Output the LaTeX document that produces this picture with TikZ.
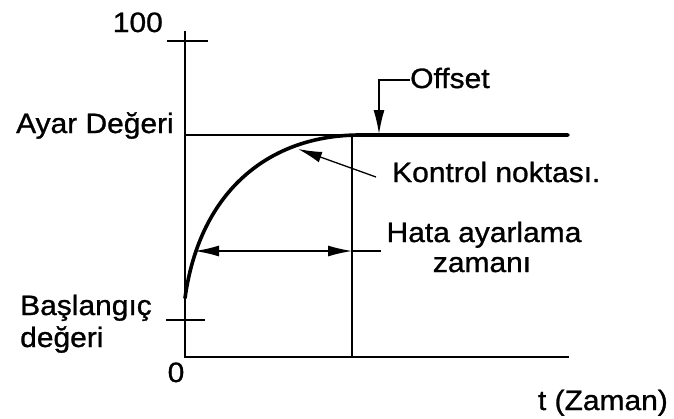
\documentclass[tikz,border=0pt]{standalone}
\usepackage{fontspec}
\newfontfamily\labfont{Liberation Sans}[FakeStretch=1.07,FakeBold=1]
\usetikzlibrary{arrows.meta,positioning}

\begin{document}
\begin{tikzpicture}[
    x=1pt,y=-1pt,
    lbl/.style={font=\labfont\fontsize{28}{31}\selectfont,inner sep=0pt},
    axis/.style={line width=1.3pt},
    resp/.style={line width=3.6pt,line cap=round},
    arr/.style={line width=1.3pt,-{Latex[length=24pt,width=11pt]}},
    dimarr/.style={line width=1.3pt,{Latex[length=24pt,width=11pt]}-{Latex[length=24pt,width=11pt]}}
  ]
  \useasboundingbox (0,0) rectangle (674,418);

  % axes and ticks
  \coordinate (o) at (185,357);
  \coordinate (ytop) at (185,31);
  \coordinate (xend) at (569,357);
  \coordinate (t100a) at (167,41);
  \coordinate (t100b) at (208,41);
  \coordinate (t0a) at (166,320);
  \coordinate (t0b) at (205,320);
  \draw[axis] (ytop) -- (o) -- (xend);
  \draw[axis] (t100a) -- (t100b);
  \draw[axis] (t0a) -- (t0b);

  % set value and settling line
  \coordinate (sp0) at (185,135);
  \coordinate (sp1) at (568,135);
  \coordinate (vt) at (352,135);
  \coordinate (vb) at (352,357);
  \draw[axis] (sp0) -- (sp1);
  \draw[axis] (vt) -- (vb);

  % response curve
  \coordinate (c0) at (185,298);
  \coordinate (cj) at (360,135);
  \draw[resp] (c0) .. controls (200,190) and (270,135) .. (cj) -- (sp1);

  % labels
  \node[lbl,anchor=base east] (n100) at (163,32) {100};
  \node[lbl,anchor=base east] (ayar) at (174,133) {Ayar Değeri};
  \node[lbl,anchor=base west,align=left] (bas) at (20,315) {Başlangıç};
  \node[lbl,anchor=base west] (deg) at (20,347) {değeri};
  \node[lbl,anchor=base] (zero) at (176,382) {0};
  \node[lbl,anchor=base east] (tz) at (668,410) {t (Zaman)};
  \node[lbl,anchor=base west] (off) at (410,88) {Offset};
  \node[lbl,anchor=base west] (kn) at (392,182) {Kontrol noktası.};
  \node[lbl,anchor=base] (hata) at (484,242) {Hata ayarlama};
  \node[lbl,anchor=base] (zam) at (482,272) {zamanı};

  % offset pointer
  \coordinate (ofc) at (379,80);
  \coordinate (oftip) at (379,134);
  \draw[arr] (off.west |- ofc) -- (ofc) -- (oftip);

  % control point pointer
  \coordinate (kt) at (376,177);
  \coordinate (kp) at (298,149);
  \draw[arr] (kt) -- (kp);

  % settling time
  \coordinate (ha) at (195,251);
  \coordinate (hb) at (352,251);
  \coordinate (hc) at (381,251);
  \draw[dimarr] (ha) -- (hb);
  \draw[axis] (hb) -- (hc);
\end{tikzpicture}
\end{document}
